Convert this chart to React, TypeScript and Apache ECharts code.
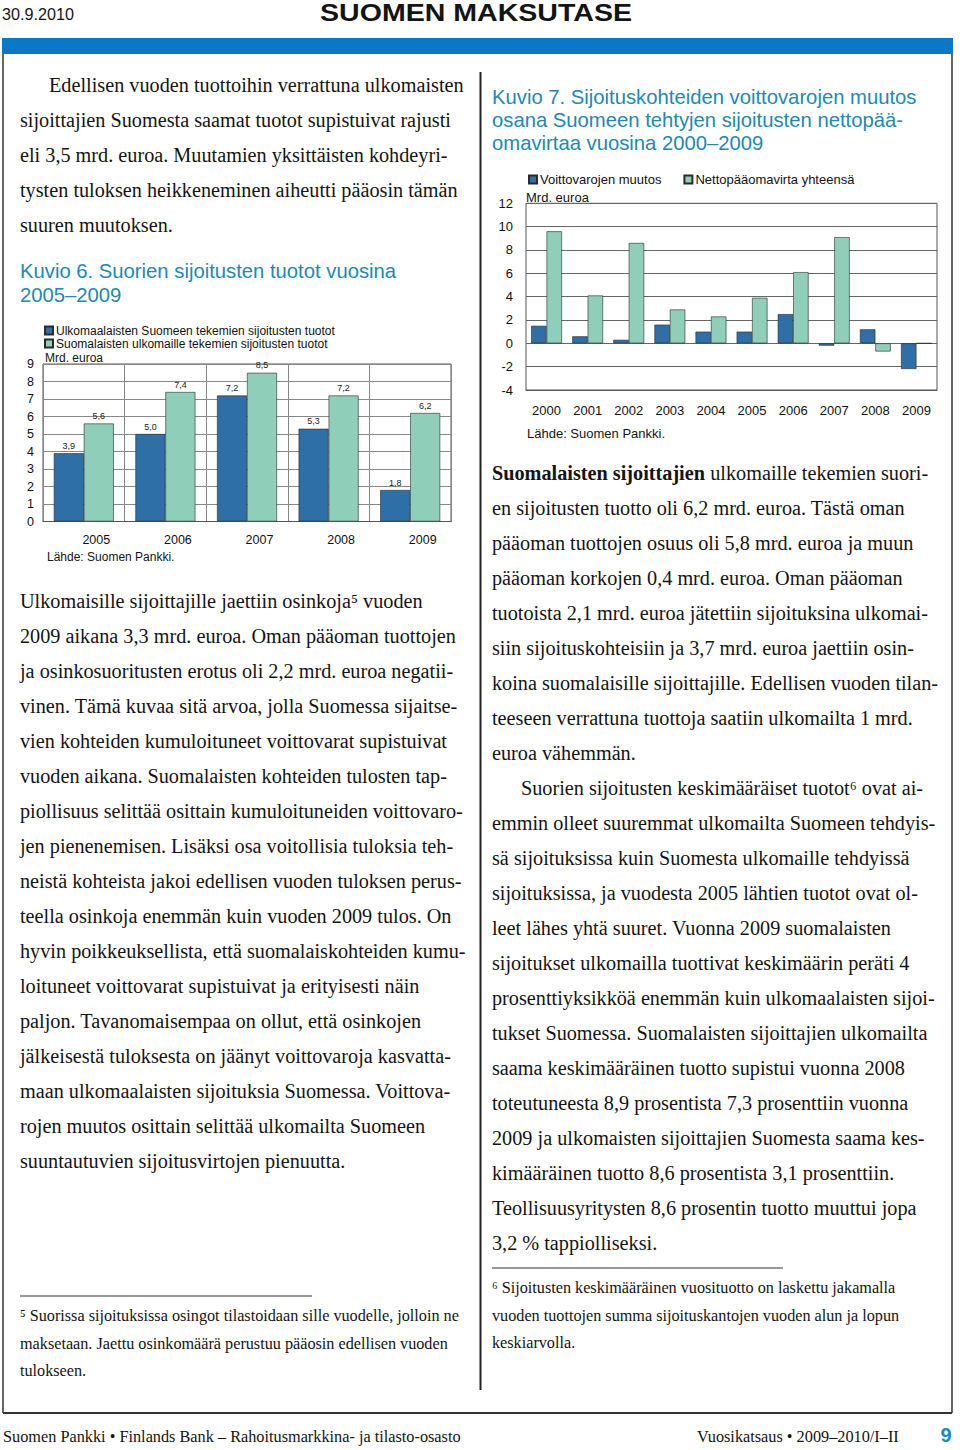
import React, { useEffect, useRef } from 'react';
import * as echarts from 'echarts';

// ---------- Chart data ----------
const years6 = ['2005', '2006', '2007', '2008', '2009'];
const foreignReturns = [3.9, 5.0, 7.2, 5.3, 1.8];
const finnishReturns = [5.6, 7.4, 8.5, 7.2, 6.2];
const series6Names = [
  'Ulkomaalaisten Suomeen tekemien sijoitusten tuotot',
  'Suomalaisten ulkomaille tekemien sijoitusten tuotot',
];

const years7 = ['2000', '2001', '2002', '2003', '2004', '2005', '2006', '2007', '2008', '2009'];
const retainedEarningsChange = [1.5, 0.6, 0.3, 1.6, 1.0, 1.0, 2.5, -0.2, 1.2, -2.2];
const netCapitalFlow = [9.6, 4.1, 8.6, 2.9, 2.3, 3.9, 6.1, 9.1, -0.7, 0.0];
const series7Names = ['Voittovarojen muutos', 'Nettopääomavirta yhteensä'];

// ---------- Page text ----------
const leftPara1 = [
  'Edellisen vuoden tuottoihin verrattuna ulkomaisten',
  'sijoittajien Suomesta saamat tuotot supistuivat rajusti',
  'eli 3,5 mrd. euroa. Muutamien yksittäisten kohdeyri-',
  'tysten tuloksen heikkeneminen aiheutti pääosin tämän',
  'suuren muutoksen.',
];
const title6 = ['Kuvio 6. Suorien sijoitusten tuotot vuosina', '2005–2009'];
const leftPara2 = [
  'Ulkomaisille sijoittajille jaettiin osinkoja⁵ vuoden',
  '2009 aikana 3,3 mrd. euroa. Oman pääoman tuottojen',
  'ja osinkosuoritusten erotus oli 2,2 mrd. euroa negatii-',
  'vinen. Tämä kuvaa sitä arvoa, jolla Suomessa sijaitse-',
  'vien kohteiden kumuloituneet voittovarat supistuivat',
  'vuoden aikana. Suomalaisten kohteiden tulosten tap-',
  'piollisuus selittää osittain kumuloituneiden voittovaro-',
  'jen pienenemisen. Lisäksi osa voitollisia tuloksia teh-',
  'neistä kohteista jakoi edellisen vuoden tuloksen perus-',
  'teella osinkoja enemmän kuin vuoden 2009 tulos. On',
  'hyvin poikkeuksellista, että suomalaiskohteiden kumu-',
  'loituneet voittovarat supistuivat ja erityisesti näin',
  'paljon. Tavanomaisempaa on ollut, että osinkojen',
  'jälkeisestä tuloksesta on jäänyt voittovaroja kasvatta-',
  'maan ulkomaalaisten sijoituksia Suomessa. Voittova-',
  'rojen muutos osittain selittää ulkomailta Suomeen',
  'suuntautuvien sijoitusvirtojen pienuutta.',
];
const footnote5 = [
  '⁵ Suorissa sijoituksissa osingot tilastoidaan sille vuodelle, jolloin ne',
  'maksetaan. Jaettu osinkomäärä perustuu pääosin edellisen vuoden',
  'tulokseen.',
];
const title7 = [
  'Kuvio 7. Sijoituskohteiden voittovarojen muutos',
  'osana Suomeen tehtyjen sijoitusten nettopää-',
  'omavirtaa vuosina 2000–2009',
];
const rightBoldLead = 'Suomalaisten sijoittajien';
const rightPara = [
  ' ulkomaille tekemien suori-',
  'en sijoitusten tuotto oli 6,2 mrd. euroa. Tästä oman',
  'pääoman tuottojen osuus oli 5,8 mrd. euroa ja muun',
  'pääoman korkojen 0,4 mrd. euroa. Oman pääoman',
  'tuotoista 2,1 mrd. euroa jätettiin sijoituksina ulkomai-',
  'siin sijoituskohteisiin ja 3,7 mrd. euroa jaettiin osin-',
  'koina suomalaisille sijoittajille. Edellisen vuoden tilan-',
  'teeseen verrattuna tuottoja saatiin ulkomailta 1 mrd.',
  'euroa vähemmän.',
  'Suorien sijoitusten keskimääräiset tuotot⁶ ovat ai-',
  'emmin olleet suuremmat ulkomailta Suomeen tehdyis-',
  'sä sijoituksissa kuin Suomesta ulkomaille tehdyissä',
  'sijoituksissa, ja vuodesta 2005 lähtien tuotot ovat ol-',
  'leet lähes yhtä suuret. Vuonna 2009 suomalaisten',
  'sijoitukset ulkomailla tuottivat keskimäärin peräti 4',
  'prosenttiyksikköä enemmän kuin ulkomaalaisten sijoi-',
  'tukset Suomessa. Suomalaisten sijoittajien ulkomailta',
  'saama keskimääräinen tuotto supistui vuonna 2008',
  'toteutuneesta 8,9 prosentista 7,3 prosenttiin vuonna',
  '2009 ja ulkomaisten sijoittajien Suomesta saama kes-',
  'kimääräinen tuotto 8,6 prosentista 3,1 prosenttiin.',
  'Teollisuusyritysten 8,6 prosentin tuotto muuttui jopa',
  '3,2 % tappiolliseksi.',
];
const footnote6 = [
  '⁶ Sijoitusten keskimääräinen vuosituotto on laskettu jakamalla',
  'vuoden tuottojen summa sijoituskantojen vuoden alun ja lopun',
  'keskiarvolla.',
];
const headerDate = '30.9.2010';
const headerTitle = 'SUOMEN MAKSUTASE';
const footerLeft = 'Suomen Pankki • Finlands Bank – Rahoitusmarkkina- ja tilasto-osasto';
const footerRight = 'Vuosikatsaus • 2009–2010/I–II';
const pageNumber = '9';
const unitLabel = 'Mrd. euroa';
const sourceLabel = 'Lähde: Suomen Pankki.';

const SERIF = '"Liberation Serif", "Times New Roman", Times, serif';
const SANS = '"Liberation Sans", Arial, Helvetica, sans-serif';
const BLUE = '#2f6fa7';
const GREEN = '#8fcfb9';
const TEAL = '#2189b4';
const INK = '#141414';

function App() {
  const ref = useRef<HTMLDivElement>(null);

  useEffect(() => {
    if (!ref.current) return;
    const chart = echarts.init(ref.current, undefined, { renderer: 'svg' });

    const canvas = document.createElement('canvas');
    const ctx = canvas.getContext('2d') as CanvasRenderingContext2D;
    const measure = (t: string, size: number, family: string, weight = 'normal') => {
      ctx.font = `${weight} ${size}px ${family}`;
      return ctx.measureText(t).width;
    };
    const fit = (t: string, size: number, family: string, target: number, weight = 'normal') =>
      target / measure(t, size, family, weight);

    const g: any[] = [];
    const text = (
      t: string, x: number, y: number, size: number, family: string,
      opts: { scale?: number; weight?: string; color?: string; align?: string } = {}
    ) => {
      g.push({
        type: 'text', x, y, scaleX: opts.scale ?? 1, silent: true,
        style: {
          text: t, fontSize: size, fontFamily: family, fontWeight: opts.weight || 'normal',
          fill: opts.color || INK, align: opts.align || 'left', verticalAlign: 'middle',
        },
      });
    };
    const line = (x1: number, y1: number, x2: number, y2: number, w: number, c = '#333') => {
      g.push({ type: 'line', silent: true, shape: { x1, y1, x2, y2 }, style: { stroke: c, lineWidth: w } });
    };

    // frame
    g.push({ type: 'rect', silent: true, shape: { x: 2, y: 38, width: 951, height: 16 }, style: { fill: '#0a78c8' } });
    line(3, 54, 3, 1413, 1.5);
    line(952, 54, 952, 1413, 1.5);
    line(3, 1413, 952, 1413, 2);
    line(480.5, 72, 480.5, 1390, 2, '#222');

    // header
    text(headerDate, 2, 14, 16, SANS, { scale: fit(headerDate, 16, SANS, 72) });
    text(headerTitle, 320, 13, 23, SANS, { weight: 'bold', scale: fit(headerTitle, 23, SANS, 312, 'bold') });

    // body text
    const BS = 20;
    const bodyScale = fit(leftPara1[0], BS, SERIF, 415);
    leftPara1.forEach((t, i) => text(t, i === 0 ? 49 : 20, 85 + i * 35, BS, SERIF, { scale: bodyScale }));
    leftPara2.forEach((t, i) => text(t, 20, 601 + i * 35, BS, SERIF, { scale: bodyScale }));

    // titles
    const TS = 20;
    const titleScale = fit(title6[0], TS, SANS, 376);
    title6.forEach((t, i) => text(t, 20, 271 + i * 24, TS, SANS, { scale: titleScale, color: TEAL }));
    title7.forEach((t, i) => text(t, 492, 97 + i * 23, TS, SANS, { scale: titleScale, color: TEAL }));

    // right column
    const boldW = measure(rightBoldLead, BS, SERIF, 'bold') * bodyScale;
    text(rightBoldLead, 492, 473, BS, SERIF, { scale: bodyScale, weight: 'bold' });
    rightPara.forEach((t, i) => {
      const x = i === 0 ? 492 + boldW : i === 9 ? 521 : 492;
      text(t, x, 473 + i * 35, BS, SERIF, { scale: bodyScale });
    });

    // footnotes
    const FS = 16;
    const fnScale = fit(footnote5[0], FS, SERIF, 439);
    line(20, 1296, 312, 1296, 1.2);
    footnote5.forEach((t, i) => text(t, 20, 1316 + i * 27.5, FS, SERIF, { scale: fnScale }));
    line(492, 1268, 783, 1268, 1.2);
    footnote6.forEach((t, i) => text(t, 492, 1288 + i * 27.5, FS, SERIF, { scale: fnScale }));

    // footer
    const footScale = fit(footerLeft, 16, SERIF, 458);
    text(footerLeft, 3, 1437, 16, SERIF, { scale: footScale });
    text(footerRight, 697, 1437, 16, SERIF, { scale: footScale });
    text(pageNumber, 946, 1435, 20, SANS, { weight: 'bold', color: '#1a8ec0', align: 'center' });

    // chart captions
    text(unitLabel, 45, 358, 12, SANS);
    text(sourceLabel, 47, 557, 12, SANS);
    text(unitLabel, 526, 197, 13, SANS);
    text(sourceLabel, 527, 433, 13, SANS);

    const valueLabel = {
      show: true, position: 'top', distance: 3, fontSize: 9, color: '#222', fontFamily: SANS,
      formatter: (p: any) => Number(p.value).toFixed(1).replace('.', ','),
    };
    const axisText = { color: '#111', fontFamily: SANS };

    chart.setOption({
      animation: false,
      backgroundColor: '#fff',
      textStyle: { fontFamily: SANS },
      graphic: g,
      legend: [
        {
          data: series6Names, orient: 'vertical', left: 44, top: 324, padding: 0,
          itemWidth: 8, itemHeight: 8, itemGap: 0, icon: 'rect',
          textStyle: { fontSize: 12, lineHeight: 13, color: '#111', padding: [0, 0, 0, -2] },
        },
        {
          data: series7Names, orient: 'horizontal', left: 528, top: 173, padding: 0,
          itemWidth: 8, itemHeight: 8, itemGap: 22, icon: 'rect',
          textStyle: { fontSize: 13, color: '#111', padding: [0, 0, 0, -2] },
        },
      ],
      grid: [
        { left: 43, top: 364, width: 408, height: 157.5, show: true, borderColor: '#555', borderWidth: 1, outerBoundsMode: 'none', containLabel: false },
        { left: 526, top: 203.3, width: 411, height: 186.7, show: true, borderColor: '#555', borderWidth: 1, outerBoundsMode: 'none', containLabel: false },
      ],
      xAxis: [
        {
          type: 'category', gridIndex: 0, data: years6,
          axisTick: { show: false }, axisLine: { lineStyle: { color: '#555' } },
          axisLabel: { ...axisText, fontSize: 12.5, margin: 12, padding: [0, 0, 0, 25] },
          splitLine: { show: true, lineStyle: { color: '#888', width: 1 } },
        },
        {
          type: 'category', gridIndex: 1, data: years7,
          axisTick: { show: false }, axisLine: { onZero: false, lineStyle: { color: '#555' } },
          axisLabel: { ...axisText, fontSize: 13, margin: 14 },
          splitLine: { show: false },
        },
      ],
      yAxis: [
        {
          type: 'value', gridIndex: 0, min: 0, max: 9, interval: 1,
          axisLine: { show: false }, axisTick: { show: false },
          axisLabel: { ...axisText, fontSize: 12.5, margin: 9 },
          splitLine: { lineStyle: { color: '#888', width: 1 } },
        },
        {
          type: 'value', gridIndex: 1, min: -4, max: 12, interval: 2,
          axisLine: { show: false }, axisTick: { show: false },
          axisLabel: { ...axisText, fontSize: 13, margin: 13 },
          splitLine: { lineStyle: { color: '#666', width: 1 } },
        },
      ],
      series: [
        {
          type: 'bar', name: series6Names[0], xAxisIndex: 0, yAxisIndex: 0, data: foreignReturns,
          barGap: '0%', barCategoryGap: '26.5%',
          itemStyle: { color: BLUE, borderColor: '#2a2a2a', borderWidth: 0.6 },
          label: valueLabel,
        },
        {
          type: 'bar', name: series6Names[1], xAxisIndex: 0, yAxisIndex: 0, data: finnishReturns,
          barGap: '0%', barCategoryGap: '26.5%',
          itemStyle: { color: GREEN, borderColor: '#2a2a2a', borderWidth: 0.6 },
          label: valueLabel,
        },
        {
          type: 'bar', name: series7Names[0], xAxisIndex: 1, yAxisIndex: 1, data: retainedEarningsChange,
          barGap: '0%', barCategoryGap: '25%',
          itemStyle: { color: BLUE, borderColor: '#2a2a2a', borderWidth: 0.6 },
        },
        {
          type: 'bar', name: series7Names[1], xAxisIndex: 1, yAxisIndex: 1, data: netCapitalFlow,
          barGap: '0%', barCategoryGap: '25%',
          itemStyle: { color: GREEN, borderColor: '#2a2a2a', borderWidth: 0.6 },
        },
      ],
    });

    return () => chart.dispose();
  }, []);

  return (
    <div
      ref={ref}
      style={{ position: 'absolute', left: 0, top: 0, width: 960, height: 1450, background: '#fff' }}
    />
  );
}

export default App;
